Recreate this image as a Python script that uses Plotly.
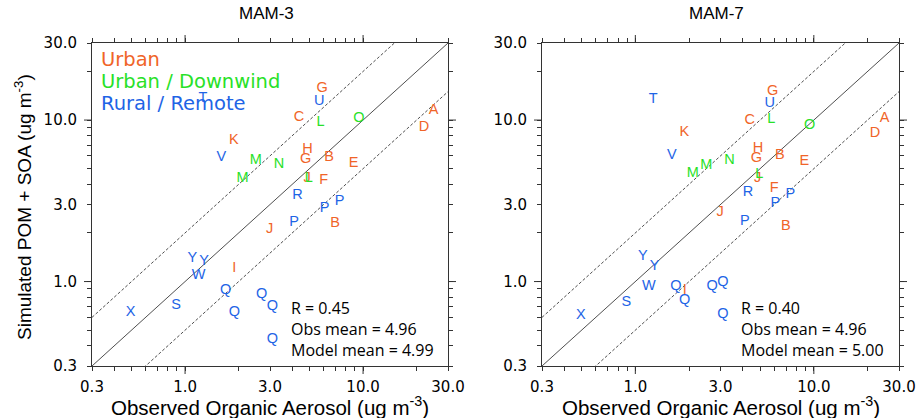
import math
import plotly.graph_objects as go

# ---------------- data ----------------
site_labels = ["A", "B", "B", "C", "D", "E", "F", "G", "G", "H", "I", "J", "J", "K",
               "L", "L", "M", "M", "N", "O",
               "P", "P", "P", "Q", "Q", "Q", "Q", "Q", "R", "S", "T", "U", "V", "W", "X", "Y", "Y"]
site_category = (["Urban"] * 14 + ["Urban / Downwind"] * 6 + ["Rural / Remote"] * 17)
observed_oa = [24.9, 6.45, 6.97, 4.37, 22.0, 8.85, 6.0, 5.88, 4.76, 4.87, 1.89, 4.85, 2.99, 1.88,
               5.77, 4.95, 2.50, 2.10, 3.37, 9.48,
               7.39, 6.08, 4.10, 1.69, 2.69, 3.09, 1.89, 3.09, 4.28, 0.891, 1.26, 5.67, 1.60, 1.19, 0.495, 1.10, 1.28]
model_mam3 = [11.4, 5.85, 2.29, 10.4, 8.97, 5.40, 4.21, 15.7, 5.74, 6.62, 1.21, 4.36, 2.09, 7.45,
              9.63, 4.36, 5.60, 4.36, 5.34, 10.3,
              3.15, 2.83, 2.31, 0.877, 0.834, 0.703, 0.641, 0.439, 3.44, 0.708, 13.6, 13.1, 5.91, 1.09, 0.645, 1.39, 1.33]
model_mam7 = [10.3, 6.05, 2.21, 10.0, 8.28, 5.52, 3.78, 15.1, 5.80, 6.68, 0.877, 4.36, 2.68, 8.43,
              10.1, 4.63, 5.27, 4.68, 5.66, 9.32,
              3.48, 3.04, 2.37, 0.929, 0.938, 0.989, 0.769, 0.627, 3.55, 0.740, 13.5, 12.7, 6.08, 0.938, 0.621, 1.44, 1.24]

panel_titles = ["MAM-3", "MAM-7"]
panel_stats = [("0.45", "4.96", "4.99"), ("0.40", "4.96", "5.00")]
legend_labels = ["Urban", "Urban / Downwind", "Rural / Remote"]
ratio_lines = [1.0, 2.0, 0.5]

axis_min, axis_max = 0.3, 30.0
tick_values = [0.3, 1, 3, 10, 30]
tick_labels = ["0.3", "1.0", "3.0", "10.0", "30.0"]
minor_values = [0.4, 0.5, 0.6, 0.7, 0.8, 0.9, 2, 4, 5, 6, 7, 8, 9, 20]
long_ticks = [1, 10]

# ---------------- style ----------------
W, H = 916, 418
cat_colors = {"Urban": "rgb(240,100,40)", "Urban / Downwind": "rgb(40,225,40)",
              "Rural / Remote": "rgb(30,100,230)"}
frame_color = "#333333"
panel_px = [(92, 448), (542, 899)]
top_px, bottom_px = 43, 366

fig = go.Figure()

for i, models in enumerate([model_mam3, model_mam7]):
    xa = "x" if i == 0 else "x2"
    ya = "y" if i == 0 else "y2"
    # reference lines 1:1, 1:2, 2:1
    for r in ratio_lines:
        fig.add_trace(go.Scatter(
            x=[axis_min, axis_max], y=[axis_min * r, axis_max * r], mode="lines",
            line=dict(color="#222222", width=0.8, dash="solid" if r == 1.0 else "3px,2px"),
            xaxis=xa, yaxis=ya, showlegend=False, hoverinfo="skip"))
    fig.add_trace(go.Scatter(
        x=observed_oa, y=models, mode="text", text=site_labels,
        textposition="middle center",
        textfont=dict(family="Liberation Sans, Arial, sans-serif", size=14.5,
                      color=[cat_colors[c] for c in site_category]),
        xaxis=xa, yaxis=ya, showlegend=False, cliponaxis=False))

def axis_common(domain, standoff):
    return dict(
        type="log", range=[math.log10(axis_min), math.log10(axis_max)], domain=domain,
        automargin=False,
        showline=True, linecolor=frame_color, linewidth=1, mirror="ticks",
        ticks="outside", ticklen=4, tickcolor=frame_color, tickwidth=1,
        tickmode="array", tickvals=tick_values, ticktext=tick_labels,
        tickfont=dict(family="DejaVu Sans, sans-serif", size=15, color="black"),
        showgrid=False, zeroline=False, ticklabelstandoff=standoff,
        minor=dict(tickmode="array", tickvals=minor_values, ticks="outside", ticklen=4,
                   tickcolor=frame_color, tickwidth=1, showgrid=False),
    )

ydom = [1 - bottom_px / H, 1 - top_px / H]
for i, (x0, x1) in enumerate(panel_px):
    xdom = [x0 / W, x1 / W]
    sx = "" if i == 0 else "2"
    xa = axis_common(xdom, 3)
    xa["anchor"] = "y" + sx
    ya = axis_common(ydom, 7)
    ya["anchor"] = "x" + sx
    fig.update_layout({"xaxis" + sx: xa, "yaxis" + sx: ya})

shapes = []
annotations = []
plot_h = bottom_px - top_px
for i, (x0, x1) in enumerate(panel_px):
    sx = "" if i == 0 else "2"
    pw = x1 - x0
    # longer ticks at decades
    for v in long_ticks:
        for side in (0, 1):
            xs = (-8 / pw, 0) if side == 0 else (1, 1 + 8 / pw)
            shapes.append(dict(type="line", xref="x" + sx + " domain", yref="y" + sx,
                               x0=xs[0], x1=xs[1], y0=v, y1=v,
                               line=dict(color=frame_color, width=1)))
            ys = (-8 / plot_h, 0) if side == 0 else (1, 1 + 8 / plot_h)
            shapes.append(dict(type="line", yref="y" + sx + " domain", xref="x" + sx,
                               y0=ys[0], y1=ys[1], x0=v, x1=v,
                               line=dict(color=frame_color, width=1)))
    cx = (x0 + x1) / 2
    annotations.append(dict(text=panel_titles[i], x=(cx - 4) / W, y=1 - 14 / H, xref="paper", yref="paper",
                            showarrow=False, xanchor="center", yanchor="middle",
                            font=dict(family="Liberation Sans, Arial, sans-serif", size=17, color="black")))
    annotations.append(dict(text="Observed Organic Aerosol (ug m<sup>-3</sup>)", x=cx / W, y=1 - 406 / H,
                            xref="paper", yref="paper", showarrow=False, xanchor="center", yanchor="middle",
                            font=dict(family="Liberation Sans, Arial, sans-serif", size=20.5, color="black")))
    r, om, mm = panel_stats[i]
    annotations.append(dict(text=f"R = {r}<br>Obs mean = {om}<br>Model mean = {mm}",
                            x=(x0 + 197) / W, y=1 - 329 / H, xref="paper", yref="paper",
                            showarrow=False, xanchor="left", yanchor="middle", align="left",
                            font=dict(family="Open Sans, sans-serif", size=16, color="black")))

annotations.append(dict(text="Simulated POM + SOA (ug m<sup>-3</sup>)", x=23 / W, y=1 - 207 / H,
                        xref="paper", yref="paper", showarrow=False, textangle=-90,
                        xanchor="center", yanchor="middle",
                        font=dict(family="Liberation Sans, Arial, sans-serif", size=19, color="black")))

for k, lab in enumerate(legend_labels):
    annotations.append(dict(text=lab, x=99 / W, y=1 - (59 + 22.5 * k) / H, xref="paper", yref="paper",
                            showarrow=False, xanchor="left", yanchor="middle",
                            font=dict(family="DejaVu Sans, sans-serif", size=19.5, color=cat_colors[lab])))

fig.update_layout(width=W, height=H, margin=dict(l=0, r=0, t=0, b=0),
                  paper_bgcolor="white", plot_bgcolor="white",
                  shapes=shapes, annotations=annotations, showlegend=False)

fig.write_html("out.html", config={"displayModeBar": False},
               post_script="document.body.style.margin='0';document.body.style.overflow='hidden';")
